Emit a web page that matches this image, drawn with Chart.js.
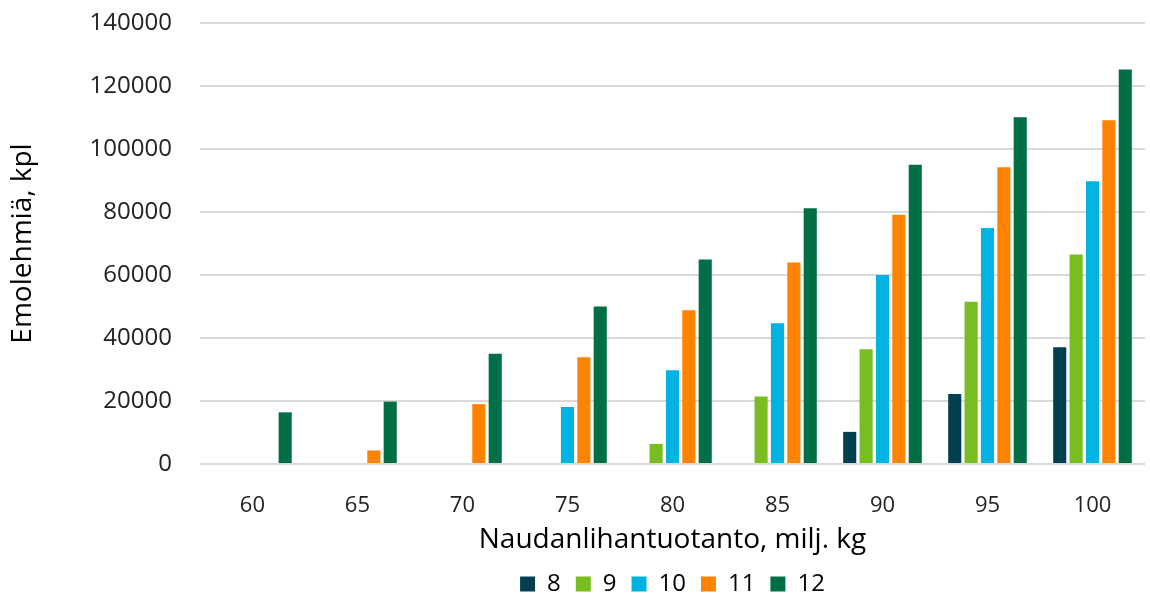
<!DOCTYPE html>
<html>
<head>
<meta charset="utf-8">
<script src="https://cdn.jsdelivr.net/npm/chart.js@4/dist/chart.umd.min.js"></script>
<style>
  body { margin: 0; background: #fff; }
  #wrap { width: 1150px; height: 599px; }
</style>
</head>
<body>
<div id="wrap"><canvas id="chart" width="1150" height="599"></canvas></div>
<script>
// Data
const categories = ['60', '65', '70', '75', '80', '85', '90', '95', '100'];
const seriesNames = ['8', '9', '10', '11', '12'];
const s8  = [0, 0, 0, 0, 0, 0, 10200, 22200, 37100];
const s9  = [0, 0, 0, 0, 6400, 21400, 36400, 51500, 66500];
const s10 = [0, 0, 0, 18100, 29800, 44700, 60000, 74900, 89800];
const s11 = [0, 4300, 19000, 33900, 48800, 64000, 79100, 94200, 109100];
const s12 = [16400, 19800, 35000, 50000, 64900, 81200, 95000, 110100, 125200];
const colors = ['#004050', '#78be20', '#00b3e0', '#ff8200', '#006f46'];

const fontFamily = '"Open Sans", "Noto Sans", sans-serif';

const datasets = [s8, s9, s10, s11, s12].map((vals, i) => ({
    label: seriesNames[i],
    data: vals,
    backgroundColor: colors[i],
    borderWidth: 0,
    barPercentage: 0.8,
    categoryPercentage: 0.78
}));

new Chart(document.getElementById('chart'), {
    type: 'bar',
    data: { labels: categories, datasets: datasets },
    options: {
        responsive: false,
        animation: false,
        layout: { padding: { left: 6, right: 5, top: 0, bottom: -7 } },
        plugins: {
            legend: {
                position: 'bottom',
                fullSize: false,
                labels: {
                    color: '#000',
                    boxWidth: 15,
                    boxHeight: 15,
                    padding: 15,
                    font: { family: fontFamily, size: 24 }
                }
            },
            tooltip: { enabled: false }
        },
        scales: {
            x: {
                grid: { display: false },
                border: { display: false },
                ticks: { color: '#222', padding: 21, font: { family: fontFamily, size: 22 } },
                title: {
                    display: true,
                    text: 'Naudanlihantuotanto, milj. kg',
                    color: '#000',
                    padding: { top: -17, bottom: 0 },
                    font: { family: fontFamily, size: 28 }
                }
            },
            y: {
                min: 0,
                max: 140000,
                // keep the top gridline close to the canvas edge
                afterFit: s => { s.paddingTop = 23; s.paddingBottom = 0; },
                ticks: {
                    stepSize: 20000,
                    color: '#222',
                    padding: 28,
                    font: { family: fontFamily, size: 24 },
                    callback: v => String(v)
                },
                grid: { color: '#d9d9d9', lineWidth: 2, drawTicks: false },
                border: { display: false },
                title: {
                    display: true,
                    text: 'Emolehmiä, kpl',
                    color: '#000',
                    padding: { top: 0, bottom: 22 },
                    font: { family: fontFamily, size: 28 }
                }
            }
        }
    }
});
</script>
</body>
</html>
